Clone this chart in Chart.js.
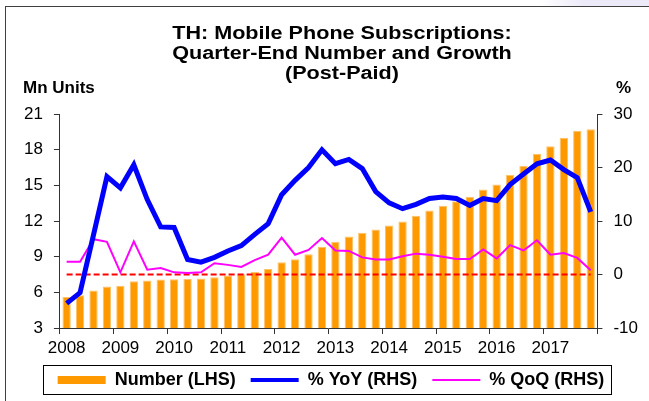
<!DOCTYPE html>
<html>
<head>
<meta charset="utf-8">
<script src="https://cdn.jsdelivr.net/npm/chart.js@4"></script>
<style>
  body { margin: 0; background: #fff; overflow: hidden; }
  #wrap { position: relative; width: 649px; height: 401px; overflow: hidden; }
  #frame { position: absolute; left: 5px; top: 6px; width: 700px; height: 500px; border: 1px solid #404040; }
  #corner { position: absolute; left: 540px; top: 0; width: 109px; height: 6px;
    background: linear-gradient(to right, rgba(236,234,248,0), #ECEAF8 40%); }
  #chartBox { position: absolute; left: 0; top: 0; width: 649px; height: 401px; }
  .txt { position: absolute; font-family: "Liberation Sans", Arial, sans-serif; font-weight: bold; color: #000; white-space: nowrap; }
  #title { left: 142px; top: 23px; width: 400px; text-align: center; font-size: 18px; line-height: 20px; transform: scaleX(1.2); }
  #unitL { left: 23px; top: 78px; font-size: 17px; }
  #unitR { left: 616px; top: 78px; font-size: 17px; }
</style>
</head>
<body>
<div id="wrap">
  <div id="frame"></div>
  <div id="corner"></div>
  <div id="chartBox"><canvas id="subsChart"></canvas></div>
  <div class="txt" id="title">TH: Mobile Phone Subscriptions:<br>Quarter-End Number and Growth<br>(Post-Paid)</div>
  <div class="txt" id="unitL">Mn Units</div>
  <div class="txt" id="unitR">%</div>
</div>
<script>
// Quarters 2008Q1 - 2017Q4
const quarters = [];
for (let y = 2008; y <= 2017; y++) {
    for (let q = 1; q <= 4; q++) quarters.push(y + 'Q' + q);
}

// Post-paid subscriptions, mn units (LHS)
const subscribers = [5.6, 5.75, 6.15, 6.5, 6.55, 6.93, 7.0, 7.07, 7.1, 7.13,
    7.16, 7.27, 7.41, 7.52, 7.72, 7.97, 8.53, 8.79, 9.21, 9.83,
    10.25, 10.7, 11.01, 11.29, 11.62, 11.96, 12.44, 12.89, 13.28, 13.67,
    14.04, 14.66, 15.08, 15.89, 16.62, 17.66, 18.28, 19.01, 19.6, 19.71];

// % YoY (RHS)
const yoyGrowth = [-5.4, -3.4, 7.4, 18.3, 16.2, 20.5, 14.0, 8.9, 8.8, 2.8,
    2.3, 3.2, 4.4, 5.4, 7.5, 9.5, 14.9, 17.6, 20.0, 23.3,
    20.7, 21.5, 19.8, 15.5, 13.4, 12.3, 13.1, 14.2, 14.5, 14.2,
    12.9, 14.2, 13.8, 16.8, 18.8, 20.7, 21.4, 19.6, 18.1, 11.7];

// % QoQ (RHS)
const qoqGrowth = [2.4, 2.4, 6.6, 6.1, 0.4, 6.2, 0.9, 1.2, 0.4, 0.3,
    0.4, 2.1, 1.8, 1.4, 2.7, 3.7, 6.9, 3.7, 4.6, 6.8,
    4.5, 4.4, 3.2, 2.8, 2.8, 3.4, 3.9, 3.7, 3.3, 2.9,
    2.9, 4.7, 3.0, 5.5, 4.5, 6.4, 3.7, 4.0, 3.1, 0.8];

// zero reference line on the % axis
const zeroLine = quarters.map(() => 0);

Chart.defaults.font.family = '"Liberation Sans", Arial, sans-serif';
Chart.defaults.color = '#000';

// box around the legend
const legendFrame = {
    id: 'legendFrame',
    afterDraw(chart) {
        const boxes = chart.legend.legendHitBoxes;
        if (!boxes || !boxes.length) return;
        const first = boxes[0];
        const last = boxes[boxes.length - 1];
        const x0 = Math.round(first.left - 15) + 0.5;
        const y0 = Math.round(first.top - 6) + 0.5;
        const x1 = Math.round(last.left + last.width + 7) + 0.5;
        const y1 = Math.round(first.top + first.height + 5) + 0.5;
        const ctx = chart.ctx;
        ctx.save();
        ctx.strokeStyle = '#000';
        ctx.lineWidth = 1;
        ctx.strokeRect(x0, y0, x1 - x0, y1 - y0);
        ctx.restore();
    }
};

const axisColor = '#333';

new Chart(document.getElementById('subsChart'), {
    type: 'bar',
    data: {
        labels: quarters,
        datasets: [{
            label: 'Number (LHS)',
            data: subscribers,
            backgroundColor: '#FF9900',
            borderColor: '#FFC266',
            borderWidth: 1,
            barPercentage: 0.62,
            categoryPercentage: 1,
            yAxisID: 'y',
            order: 4
        }, {
            type: 'line',
            label: '% YoY (RHS)',
            data: yoyGrowth,
            borderColor: '#0000FF',
            backgroundColor: '#0000FF',
            borderWidth: 5,
            pointRadius: 0,
            tension: 0,
            yAxisID: 'y1',
            order: 1
        }, {
            type: 'line',
            label: '% QoQ (RHS)',
            data: qoqGrowth,
            borderColor: '#FF00FF',
            backgroundColor: '#FF00FF',
            borderWidth: 2,
            pointRadius: 0,
            tension: 0,
            yAxisID: 'y1',
            order: 2
        }, {
            type: 'line',
            label: 'zero',
            data: zeroLine,
            borderColor: '#FF0000',
            borderWidth: 2,
            borderDash: [6, 3],
            pointRadius: 0,
            yAxisID: 'y1',
            order: 3
        }]
    },
    options: {
        responsive: true,
        maintainAspectRatio: false,
        animation: false,
        layout: { padding: { left: 13, right: 0, top: 114, bottom: 2 } },
        scales: {
            x: {
                offset: true,
                grid: {
                    offset: true,
                    drawOnChartArea: false,
                    tickLength: 6,
                    color: c => (c.index === undefined || c.index % 4 === 0) ? axisColor : 'transparent'
                },
                border: { color: axisColor },
                ticks: {
                    autoSkip: false,
                    maxRotation: 0,
                    padding: 4,
                    font: { size: 17 },
                    callback: function (value) {
                        const lbl = this.getLabelForValue(value);
                        return lbl.endsWith('Q1') ? lbl.slice(0, 4) : '';
                    }
                },
                afterFit: scale => { scale.height = 28; }
            },
            y: {
                position: 'left',
                min: 3,
                max: 21,
                ticks: { stepSize: 3, padding: 11, font: { size: 17 } },
                grid: { drawOnChartArea: false, tickLength: 6, color: axisColor },
                border: { color: axisColor }
            },
            y1: {
                position: 'right',
                min: -10,
                max: 30,
                ticks: { stepSize: 10, padding: 11, font: { size: 17 } },
                grid: { drawOnChartArea: false, tickLength: 5, color: axisColor },
                border: { color: axisColor }
            }
        },
        plugins: {
            title: { display: false },
            tooltip: { enabled: false },
            legend: {
                position: 'bottom',
                labels: {
                    usePointStyle: true,
                    pointStyleWidth: 48,
                    boxHeight: 8,
                    padding: 15,
                    color: '#000',
                    font: { size: 18, weight: 'bold' },
                    generateLabels: chart => chart.data.datasets.slice(0, 3).map((ds, i) => ({
                        text: ds.label,
                        fillStyle: ds.backgroundColor,
                        strokeStyle: i === 0 ? ds.backgroundColor : ds.borderColor,
                        lineWidth: i === 0 ? 0 : (i === 1 ? 4 : 2),
                        pointStyle: i === 0 ? 'rect' : 'line',
                        fontColor: '#000',
                        hidden: false,
                        datasetIndex: i
                    }))
                }
            }
        }
    },
    plugins: [legendFrame]
});
</script>
</body>
</html>
